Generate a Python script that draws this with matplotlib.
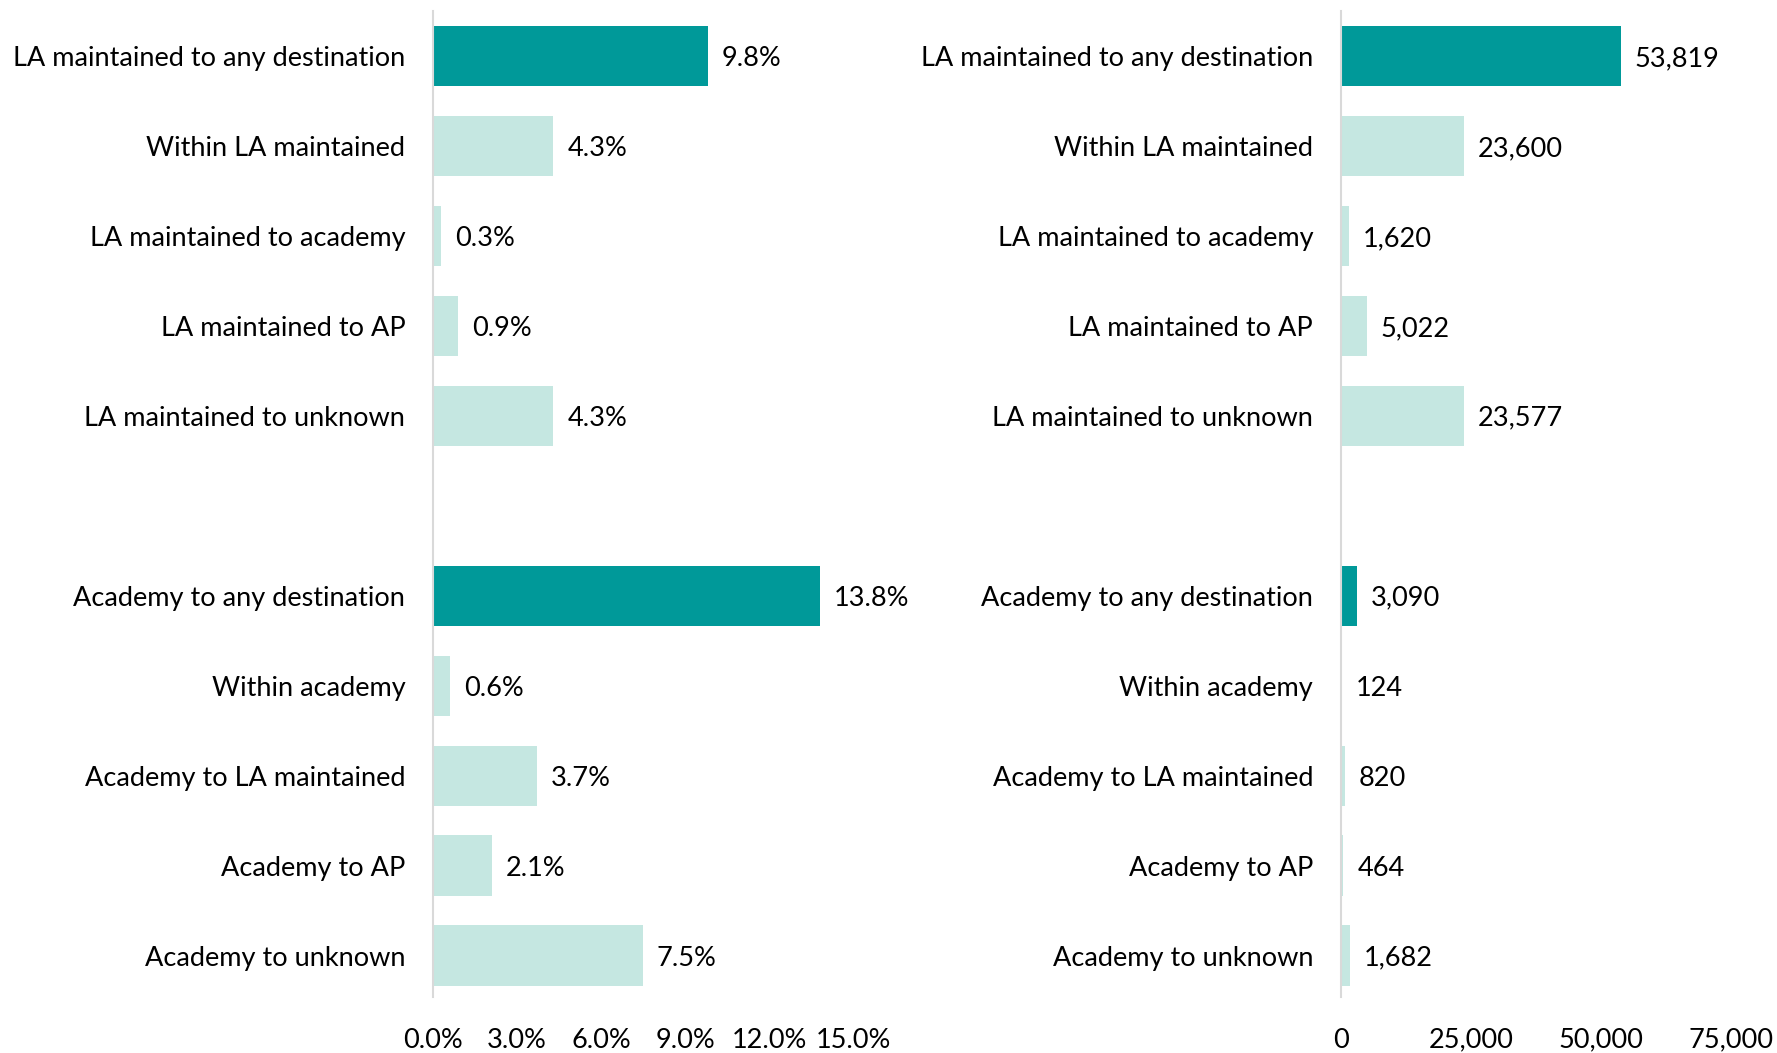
import numpy as np
import matplotlib
matplotlib.use('Agg')
import matplotlib.pyplot as plt
from matplotlib.ticker import FuncFormatter

plt.rcParams['font.family'] = ['Lato', 'DejaVu Sans']

# categories top to bottom, None marks the empty gap row
categories = ['LA maintained to any destination', 'Within LA maintained',
              'LA maintained to academy', 'LA maintained to AP',
              'LA maintained to unknown', None,
              'Academy to any destination', 'Within academy',
              'Academy to LA maintained', 'Academy to AP', 'Academy to unknown']
pct_values = [9.8, 4.3, 0.3, 0.9, 4.3, None, 13.8, 0.6, 3.7, 2.1, 7.5]
count_values = [53819, 23600, 1620, 5022, 23577, None, 3090, 124, 820, 464, 1682]
is_total = [True, False, False, False, False, None, True, False, False, False, False]

pct_ticks = [0, 3, 6, 9, 12, 15]
count_ticks = [0, 25000, 50000, 75000]

DARK = '#009999'
LIGHT = '#C5E7E1'
FS = 19.5

fig = plt.figure(figsize=(17.77, 10.53), dpi=100)
ax1 = fig.add_axes([0.2437, 0.0532, 0.2364, 0.9364])
ax2 = fig.add_axes([0.7546, 0.0532, 0.2195, 0.9364])


def draw(ax, values, xmax, ticks, fmt_tick, fmt_val):
    y = [i for i, v in enumerate(values) if v is not None]
    vals = [values[i] for i in y]
    cols = [DARK if is_total[i] else LIGHT for i in y]
    ax.barh(y, vals, height=0.67, color=cols)
    for yi, v in zip(y, vals):
        ax.annotate(fmt_val(v), (v, yi), xytext=(10, 0), textcoords='offset points',
                    va='center_baseline', ha='left', fontsize=FS, color='black')
    ax.set_yticks(y)
    ax.set_yticklabels([categories[i] for i in y], fontsize=FS, va='center_baseline')
    ax.set_ylim(10.46, -0.5)
    ax.set_xlim(0, xmax)
    ax.set_xticks(ticks)
    ax.xaxis.set_major_formatter(FuncFormatter(fmt_tick))
    ax.tick_params(axis='x', length=0, pad=22, labelsize=FS)
    ax.tick_params(axis='y', length=0, pad=20)
    for s in ['top', 'right', 'bottom']:
        ax.spines[s].set_visible(False)
    ax.spines['left'].set_color('#D9D9D9')
    ax.spines['left'].set_linewidth(1.5)


draw(ax1, pct_values, 15, pct_ticks,
     lambda x, p: f'{x:.1f}%', lambda v: f'{v:.1f}%')
draw(ax2, count_values, 75000, count_ticks,
     lambda x, p: f'{x:,.0f}', lambda v: f'{v:,.0f}')

plt.savefig('out.png', dpi=100)
